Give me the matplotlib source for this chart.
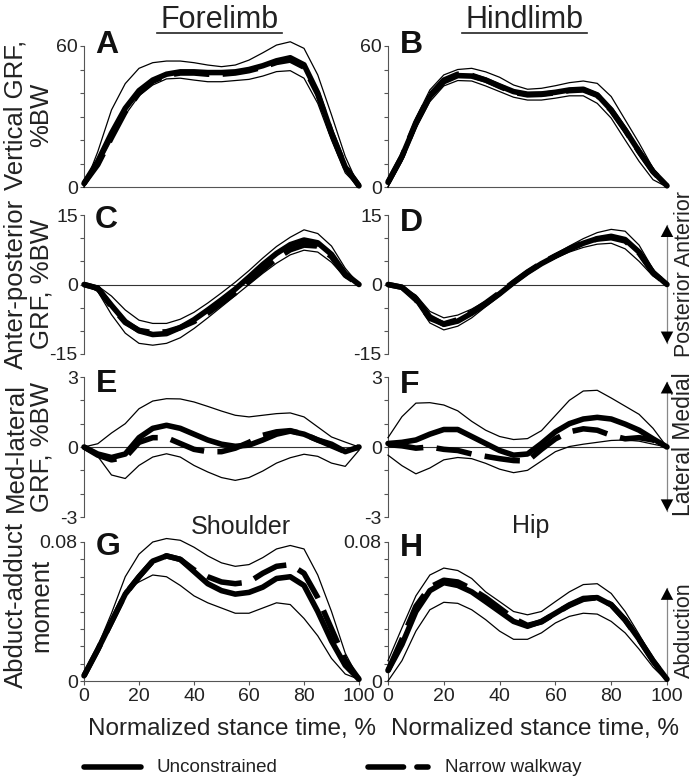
import numpy as np
import matplotlib
matplotlib.use('Agg')
import matplotlib.pyplot as plt
from matplotlib.lines import Line2D

plt.rcParams['font.family'] = ['Liberation Sans', 'DejaVu Sans']

# ---------------- data ----------------
stance = [0, 5, 10, 15, 20, 25, 30, 35, 40, 45, 50, 55, 60, 65, 70, 75, 80, 85, 90, 95, 100]

# A: forelimb vertical GRF (%BW)
A_uncon = [1.5, 10.9, 22.9, 33.5, 41, 45.5, 48, 49, 49, 48.7, 48.7, 49, 50, 51.6, 53.7, 55, 52, 40, 23, 8.5, 0.5]
A_narrow = [1.5, 9.5, 21, 32, 40, 45, 47.5, 48.5, 48.5, 48, 48, 48.5, 49.5, 51, 53, 54, 51, 39.5, 23, 8.5, 0.5]
A_upper = [0, 15, 32.8, 44, 50.5, 52.9, 53.6, 53.6, 52.9, 51.9, 51.2, 51.9, 54, 57.1, 60.4, 61.8, 59, 47.7, 30.7, 13, 0]
A_lower = [0, 8.8, 20, 30.7, 38.8, 43.4, 46, 46.3, 45.5, 44.8, 44.8, 45.3, 45.8, 47.2, 49.1, 49.5, 46.3, 35.6, 20, 6, 0]

# B: hindlimb vertical GRF (%BW)
B_uncon = [2, 13, 27, 38.5, 44.8, 47.4, 47.2, 45.5, 43, 40.6, 39.5, 39.6, 40.3, 41.3, 41.6, 39.2, 32.8, 24.3, 15.1, 6.6, 0.5]
B_narrow = [2, 13, 27.5, 39, 45.5, 48, 47.5, 45.5, 42.8, 40.3, 39.2, 39.4, 40.1, 41, 41.3, 39, 32.6, 24.2, 15, 6.5, 0.5]
B_upper = [0, 14.4, 29.3, 41.3, 47.7, 50, 50.5, 49, 46.7, 43.4, 41.6, 42, 43.1, 44.4, 45.1, 44.1, 38.5, 28.6, 18.7, 8, 0]
B_lower = [0, 10.9, 25, 36.3, 43, 45.3, 45.1, 43, 40.6, 38.2, 37, 37, 37.8, 38.8, 38.8, 35.6, 29.3, 20, 10.9, 3.1, 0]

# C: forelimb anterior-posterior GRF (%BW)
C_uncon = [0, -0.8, -4.5, -8, -10, -10.8, -10.6, -9.3, -7.6, -5.5, -3.3, -1, 1.6, 4.3, 6.7, 8.6, 9.6, 9, 6.5, 2.3, 0]
C_narrow = [0, -0.8, -4.8, -8.2, -9.9, -10.4, -10.2, -9.3, -8, -6.2, -4, -1.8, 0.7, 3.2, 5.6, 7.5, 8.5, 8.3, 6, 2, 0]
C_upper = [0, -0.3, -2.5, -5.5, -7.7, -8.4, -8.4, -7.5, -6, -4, -1.8, 0.5, 3, 5.7, 8.2, 10.2, 11.8, 11, 8.3, 3.5, 0]
C_lower = [0, -1.5, -6.5, -10.5, -12.7, -13.1, -12.7, -11.5, -9.5, -7.2, -4.8, -2.4, 0, 2.4, 4.6, 6.4, 7.4, 7, 4.8, 1.5, 0]

# D: hindlimb anterior-posterior GRF (%BW)
D_uncon = [0, -0.6, -3, -7, -8.6, -7.9, -6.2, -4.2, -2, 0.4, 2.6, 4.5, 6.1, 7.6, 8.9, 9.9, 10.4, 9.7, 7, 2.6, 0]
D_narrow = [0, -0.6, -3.3, -7.3, -8.5, -7.6, -6, -4, -1.8, 0.5, 2.7, 4.6, 6.2, 7.7, 9, 9.8, 10.1, 9.4, 6.8, 2.5, 0]
D_upper = [0, -0.5, -2.3, -5.8, -7.2, -6.6, -5.3, -3.6, -1.6, 0.7, 2.9, 4.8, 6.6, 8.3, 9.9, 11.2, 11.9, 11.5, 8.5, 3.3, 0]
D_lower = [0, -0.8, -3.8, -8.3, -9.8, -9, -7.2, -4.8, -2.5, 0.1, 2.3, 4.2, 5.7, 7, 8, 8.7, 8.9, 7.7, 5, 1.8, 0]

# E: forelimb medio-lateral GRF (%BW)
E_uncon = [0, -0.3, -0.45, -0.3, 0.4, 0.8, 0.93, 0.8, 0.55, 0.3, 0.12, 0.03, 0.08, 0.3, 0.55, 0.68, 0.55, 0.3, 0.12, -0.2, 0]
E_narrow = [0, -0.35, -0.55, -0.45, 0.2, 0.4, 0.4, 0.15, -0.1, -0.2, -0.2, -0.05, 0.2, 0.5, 0.65, 0.7, 0.55, 0.3, 0.05, -0.2, 0]
E_upper = [0, 0.14, 0.6, 1.0, 1.64, 1.97, 2.07, 2.06, 1.93, 1.74, 1.54, 1.36, 1.29, 1.36, 1.43, 1.46, 1.29, 0.86, 0.43, 0.21, 0]
E_lower = [0, -0.4, -1.2, -1.35, -0.79, -0.43, -0.29, -0.43, -0.79, -1.07, -1.31, -1.43, -1.31, -1.03, -0.69, -0.46, -0.31, -0.4, -0.69, -0.83, -0.14]

# F: hindlimb medio-lateral GRF (%BW)
F_uncon = [0.15, 0.2, 0.3, 0.55, 0.75, 0.75, 0.45, 0.15, -0.15, -0.35, -0.3, 0.15, 0.65, 1.0, 1.2, 1.27, 1.2, 0.98, 0.72, 0.35, 0]
F_narrow = [0.1, 0.05, -0.05, 0, -0.1, -0.15, -0.3, -0.4, -0.5, -0.58, -0.6, -0.1, 0.35, 0.65, 0.78, 0.72, 0.5, 0.35, 0.4, 0.3, 0]
F_upper = [0.4, 1.3, 1.88, 1.9, 1.8, 1.55, 1.1, 0.72, 0.45, 0.32, 0.36, 0.7, 1.35, 2.0, 2.4, 2.43, 2.1, 1.75, 1.4, 0.8, 0]
F_lower = [-0.35, -0.8, -1.15, -0.9, -0.55, -0.45, -0.5, -0.7, -0.95, -1.1, -1.0, -0.6, -0.2, 0.02, 0.12, 0.2, 0.28, 0.3, 0.25, 0.12, 0]

# G: shoulder abduct-adduct moment
G_uncon = [0.003, 0.018, 0.034, 0.050, 0.060, 0.069, 0.072, 0.070, 0.063, 0.056, 0.052, 0.050, 0.051, 0.054, 0.059, 0.060, 0.055, 0.040, 0.023, 0.009, 0.001]
G_narrow = [0.003, 0.018, 0.034, 0.050, 0.060, 0.069, 0.072, 0.070, 0.064, 0.060, 0.057, 0.056, 0.057, 0.062, 0.066, 0.067, 0.062, 0.048, 0.030, 0.012, 0.001]
G_upper = [0.002, 0.020, 0.039, 0.060, 0.073, 0.080, 0.082, 0.081, 0.077, 0.072, 0.068, 0.066, 0.067, 0.071, 0.076, 0.078, 0.076, 0.061, 0.040, 0.016, 0.001]
G_lower = [0.003, 0.016, 0.035, 0.052, 0.057, 0.061, 0.060, 0.055, 0.049, 0.045, 0.042, 0.039, 0.039, 0.042, 0.045, 0.044, 0.036, 0.026, 0.013, 0.004, 0.001]

# H: hip abduct-adduct moment
H_uncon = [0.006, 0.021, 0.040, 0.052, 0.0566, 0.055, 0.0513, 0.0457, 0.040, 0.0343, 0.0315, 0.0343, 0.039, 0.0438, 0.0475, 0.048, 0.0438, 0.0353, 0.024, 0.0117, 0.001]
H_narrow = [0.006, 0.024, 0.043, 0.054, 0.058, 0.057, 0.053, 0.048, 0.042, 0.036, 0.032, 0.034, 0.039, 0.0435, 0.047, 0.048, 0.044, 0.035, 0.024, 0.0115, 0.001]
H_upper = [0.0117, 0.0306, 0.049, 0.061, 0.065, 0.0636, 0.059, 0.0513, 0.0457, 0.040, 0.0381, 0.040, 0.0457, 0.0513, 0.0555, 0.056, 0.0504, 0.040, 0.0268, 0.0126, 0.001]
H_lower = [0, 0.0117, 0.0287, 0.041, 0.0453, 0.0447, 0.041, 0.0353, 0.0287, 0.024, 0.024, 0.0277, 0.0334, 0.0372, 0.039, 0.0385, 0.0343, 0.0277, 0.0183, 0.008, 0]

x_ticks = [0, 20, 40, 60, 80, 100]
legend_labels = ['Unconstrained', 'Narrow walkway']

# ---------------- layout ----------------
W, H = 698, 779
fig = plt.figure(figsize=(W / 100, H / 100), dpi=100)

def fx(px):
    return px / W

def fy(py):
    return 1 - py / H

col_x = [(84, 359), (388, 667)]
row_y = [(46, 187), (215, 354), (377, 517), (542, 681)]

TXT = '#222222'
SPINE = '#555555'

panels = [
    ('A', A_uncon, A_narrow, A_upper, A_lower, (0, 60), list(range(0, 61, 10)), ['0', '', '', '', '', '', '60']),
    ('B', B_uncon, B_narrow, B_upper, B_lower, (0, 60), list(range(0, 61, 10)), ['0', '', '', '', '', '', '60']),
    ('C', C_uncon, C_narrow, C_upper, C_lower, (-15, 15), list(range(-15, 16, 5)), ['-15', '', '', '0', '', '', '15']),
    ('D', D_uncon, D_narrow, D_upper, D_lower, (-15, 15), list(range(-15, 16, 5)), ['-15', '', '', '0', '', '', '15']),
    ('E', E_uncon, E_narrow, E_upper, E_lower, (-3, 3), list(range(-3, 4)), ['-3', '', '', '0', '', '', '3']),
    ('F', F_uncon, F_narrow, F_upper, F_lower, (-3, 3), list(range(-3, 4)), ['-3', '', '', '0', '', '', '3']),
    ('G', G_uncon, G_narrow, G_upper, G_lower, (0, 0.08), [i * 0.01 for i in range(9)], ['0'] + [''] * 7 + ['0.08']),
    ('H', H_uncon, H_narrow, H_upper, H_lower, (0, 0.08), [i * 0.01 for i in range(9)], ['0'] + [''] * 7 + ['0.08']),
]

letter_pos = {'A': (95, 53), 'B': (400, 53), 'C': (95, 228), 'D': (400, 231),
              'E': (96, 392), 'F': (400, 393), 'G': (96, 555), 'H': (400, 556)}

axes = {}
for i, (name, unc, nar, up, lo, ylim, yt, ytl) in enumerate(panels):
    r, c = divmod(i, 2)
    x0, x1 = col_x[c]
    yt0, yb0 = row_y[r]
    ax = fig.add_axes([fx(x0), fy(yb0), (x1 - x0) / W, (yb0 - yt0) / H])
    axes[name] = ax
    ax.set_xlim(0, 100)
    ax.set_ylim(*ylim)
    ax.patch.set_alpha(0)
    for s in ['top', 'right']:
        ax.spines[s].set_visible(False)
    ax.spines['left'].set_color(SPINE)
    ax.spines['left'].set_linewidth(0.8)
    ax.spines['bottom'].set_color(SPINE)
    ax.spines['bottom'].set_linewidth(0.8)
    ax.set_yticks(yt)
    ax.set_yticklabels(ytl)
    ax.tick_params(axis='y', direction='out', length=3, width=0.8, color=SPINE,
                   labelsize=14, labelcolor=TXT, pad=1.5)
    if r == 3:
        ax.set_xticks(x_ticks)
        ax.set_xticklabels([str(t) for t in x_ticks])
        ax.tick_params(axis='x', direction='out', length=3, width=0.8, color=SPINE,
                       labelsize=14, labelcolor=TXT, pad=2)
    else:
        ax.set_xticks([])
    if r in (1, 2):
        ax.spines['bottom'].set_visible(False)
        ax.axhline(0, color='#333333', lw=0.8, zorder=1)
    ax.plot(stance, up, color='black', lw=0.9, clip_on=False, zorder=3)
    ax.plot(stance, lo, color='black', lw=0.9, clip_on=False, zorder=3)
    ax.plot(stance, unc, color='black', lw=4, solid_capstyle='round', solid_joinstyle='round',
            clip_on=False, zorder=4)
    ax.plot(stance, nar, color='black', lw=4, dashes=(6.4, 2.4), dash_capstyle='butt',
            dash_joinstyle='round', clip_on=False, zorder=5)
    lx, ly = letter_pos[name]
    fig.text(fx(lx), fy(ly), name, fontsize=23, fontweight='bold', color='#111111',
             ha='left', va='baseline')

# ---------------- titles ----------------
fig.text(fx(219.5), fy(28), 'Forelimb', fontsize=22, color=TXT, ha='center', va='baseline')
fig.text(fx(524), fy(28), 'Hindlimb', fontsize=22, color=TXT, ha='center', va='baseline')
fig.add_artist(Line2D([fx(157), fx(282)], [fy(32.5), fy(32.5)], color=TXT, lw=1.2))
fig.add_artist(Line2D([fx(462), fx(587)], [fy(32.5), fy(32.5)], color=TXT, lw=1.2))

fig.text(fx(241), fy(534), 'Shoulder', fontsize=18, color=TXT, ha='center', va='baseline')
fig.text(fx(531), fy(533), 'Hip', fontsize=18, color=TXT, ha='center', va='baseline')

# ---------------- y labels (two rotated lines each) ----------------
ylabels = [('Vertical GRF,', '%BW', 115), ('Anter-posterior', 'GRF, %BW', 284),
           ('Med-lateral', 'GRF, %BW', 447), ('Abduct-adduct', 'moment', 605)]
for l1, l2, yc in ylabels:
    fig.text(fx(16), fy(yc), l1, fontsize=18.5, color=TXT, rotation=90,
             ha='center', va='center')
    fig.text(fx(41), fy(yc), l2, fontsize=18.5, color=TXT, rotation=90,
             ha='center', va='center')

# x labels
fig.text(fx(232), fy(735), 'Normalized stance time, %', fontsize=17.5, color=TXT,
         ha='center', va='baseline')
fig.text(fx(535), fy(735), 'Normalized stance time, %', fontsize=17.5, color=TXT,
         ha='center', va='baseline')

# ---------------- direction arrows ----------------
def dir_arrow(ax, y0, y1, up=True, down=True):
    ax.plot([100, 100], [y0, y1], color='#888888', lw=0.9, clip_on=False, zorder=2)
    span = y1 - y0
    hp = dict(arrowstyle='-|>,head_length=0.85,head_width=0.45', color='black', lw=0,
              shrinkA=0, shrinkB=0, mutation_scale=10)
    if up:
        ax.annotate('', xy=(100, y1), xytext=(100, y1 - span * 0.15), arrowprops=hp,
                    annotation_clip=False)
    if down:
        ax.annotate('', xy=(100, y0), xytext=(100, y0 + span * 0.15), arrowprops=hp,
                    annotation_clip=False)

dir_arrow(axes['D'], -12.7, 12.8)
dir_arrow(axes['F'], -2.75, 2.8)
dir_arrow(axes['H'], 0, 0.0535, up=True, down=False)

fig.text(fx(684), fy(274), 'Posterior Anterior', fontsize=15.5, color=TXT, rotation=90,
         ha='center', va='center')
fig.text(fx(684), fy(444), 'Lateral Medial', fontsize=16.5, color=TXT, rotation=90,
         ha='center', va='center')
fig.text(fx(684), fy(630), 'Abduction', fontsize=15.5, color=TXT, rotation=90,
         ha='center', va='center')

# ---------------- legend ----------------
fig.add_artist(Line2D([fx(84), fx(141)], [fy(767), fy(767)], color='black', lw=4,
                      solid_capstyle='round'))
fig.text(fx(157), fy(767), legend_labels[0], fontsize=13.5, color=TXT, ha='left', va='center')
fig.add_artist(Line2D([fx(368), fx(428)], [fy(767), fy(767)], color='black', lw=4,
                      dashes=(6.4, 2.4), dash_capstyle='round'))
fig.text(fx(445), fy(767), legend_labels[1], fontsize=13.5, color=TXT, ha='left', va='center')

fig.savefig('out.png', dpi=100)
